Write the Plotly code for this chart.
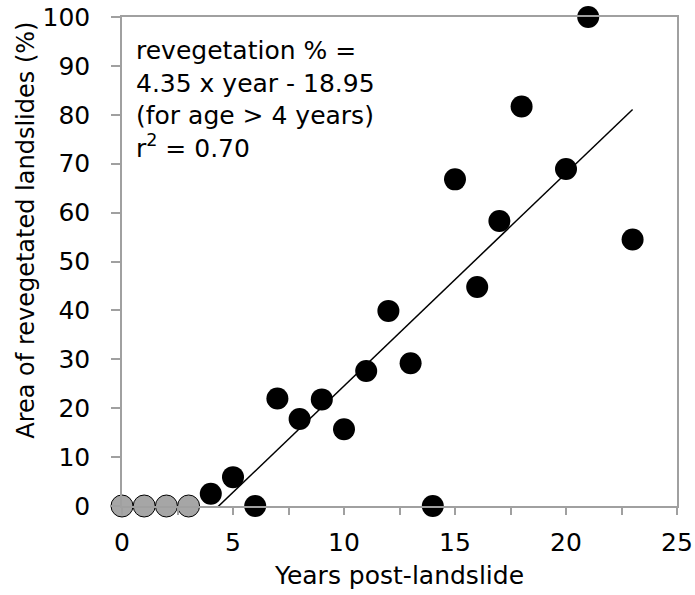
import plotly.graph_objects as go

# Data
gray_years = [0, 1, 2, 3]
gray_values = [0, 0, 0, 0]

black_years = [4, 5, 6, 7, 8, 9, 10, 11, 12, 13, 14, 15, 16, 17, 18, 20, 21, 23]
black_values = [2.5, 5.9, 0, 22.0, 17.8, 21.8, 15.7, 27.6, 39.9, 29.2, 0, 66.8, 44.8, 58.3, 81.7, 68.9, 100, 54.5]

slope = 4.35
intercept = -18.95
fit_years = [4, 23]
fit_values = [slope * x + intercept for x in fit_years]

x_tickvals = [0, 5, 10, 15, 20, 25]
y_tickvals = [0, 10, 20, 30, 40, 50, 60, 70, 80, 90, 100]

FONT = "DejaVu Sans, Arial, sans-serif"
FS = 25
AXIS_GRAY = "#a0a0a0"

fig = go.Figure()

fig.add_trace(go.Scatter(
    x=fit_years, y=fit_values, mode="lines",
    line=dict(color="black", width=1.5), showlegend=False, cliponaxis=False,
))
fig.add_trace(go.Scatter(
    x=gray_years, y=gray_values, mode="markers",
    marker=dict(size=22, color="#a6a6a6", line=dict(color="black", width=1)),
    showlegend=False, cliponaxis=False,
))
fig.add_trace(go.Scatter(
    x=black_years, y=black_values, mode="markers",
    marker=dict(size=22, color="black", line=dict(color="black", width=0)),
    showlegend=False, cliponaxis=False,
))

fig.add_annotation(
    xref="paper", yref="paper", x=0.022, y=0.965, xanchor="left", yanchor="top",
    align="left", showarrow=False,
    text="revegetation % =<br>4.35 x year - 18.95<br>(for age > 4 years)<br>r<sup>2</sup> = 0.70",
    font=dict(family=FONT, size=FS, color="black"),
)

# y-axis title placed as rotated text
fig.add_annotation(
    xref="paper", yref="paper", x=-0.172, y=0.564, xanchor="center", yanchor="middle",
    textangle=-90, showarrow=False,
    text="Area of revegetated landslides (%)",
    font=dict(family=FONT, size=24, color="black"),
)

fig.update_layout(
    width=695, height=595,
    margin=dict(l=122, r=18, t=17, b=89),
    plot_bgcolor="white", paper_bgcolor="white",
    font=dict(family=FONT, size=FS, color="black"),
    xaxis=dict(
        range=[0, 25], tickvals=x_tickvals, showgrid=False, zeroline=False,
        showline=True, linecolor=AXIS_GRAY, linewidth=1.5, mirror=True,
        ticks="outside", ticklen=7, tickcolor=AXIS_GRAY, tickwidth=1.5,
        minor=dict(dtick=2.5, ticks="outside", ticklen=7, tickcolor=AXIS_GRAY, tickwidth=1.5),
        title=dict(text="Years post-landslide", font=dict(size=FS), standoff=11),
        ticklabelstandoff=6, automargin=False, ticklabeloverflow="allow",
    ),
    yaxis=dict(
        range=[0, 100], tickvals=y_tickvals, showgrid=False, zeroline=False,
        showline=True, linecolor=AXIS_GRAY, linewidth=1.5, mirror=True,
        ticks="outside", ticklen=9, tickcolor=AXIS_GRAY, tickwidth=1.5,
        ticklabelstandoff=16, automargin=False, ticklabeloverflow="allow",
    ),
)

fig.write_html(
    "out.html",
    config={"displayModeBar": False},
    post_script="document.body.style.margin='0';document.body.style.overflow='hidden';",
)
